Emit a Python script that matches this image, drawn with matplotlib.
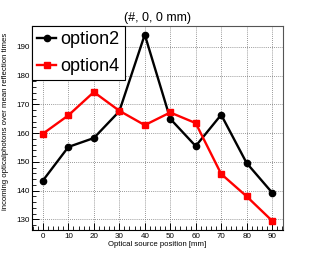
import matplotlib
matplotlib.use("Agg")
from matplotlib import pyplot as plt
from matplotlib.ticker import MultipleLocator

positions = [0, 10, 20, 30, 40, 50, 60, 70, 80, 90]
option2 = [143.5, 155.2, 158.3, 167.6, 194.3, 165.0, 155.5, 166.4, 149.6, 139.3]
option4 = [159.8, 166.2, 174.3, 167.8, 162.8, 167.2, 163.5, 145.8, 138.0, 129.5]

plt.rcParams['font.family'] = ['Liberation Sans', 'DejaVu Sans']

fig = plt.figure(figsize=(3.15, 2.56), dpi=100)
ax = fig.add_axes([0.1006, 0.1016, 0.7988, 0.798])

ax.plot(positions, option2, color='black', lw=1.7, marker='o', ms=4.5, label='option2')
ax.plot(positions, option4, color='red', lw=1.7, marker='s', ms=4.5, label='option4')

ax.set_xlim(-4.4, 94.4)
ax.set_ylim(126.3, 197.4)
ax.xaxis.set_major_locator(MultipleLocator(10))
ax.xaxis.set_minor_locator(MultipleLocator(2))
ax.yaxis.set_major_locator(MultipleLocator(10))
ax.yaxis.set_minor_locator(MultipleLocator(2))
ax.tick_params(which='both', direction='in', labelsize=5.8, top=False, right=False)
ax.tick_params(which='major', length=5, width=0.7)
ax.tick_params(which='minor', length=2.8, width=0.6)
ax.tick_params(axis='x', pad=2.5)
ax.tick_params(axis='y', pad=1.6)
ax.grid(True, which='major', ls=(0, (1, 1.5)), color='#777777', lw=0.6)
for s in ['top', 'right']:
    ax.spines[s].set_color('#555555')
for s in ax.spines.values():
    s.set_linewidth(0.8)

fig.text(0.4995, 1 - 20.5 / 256, '(#, 0, 0 mm)', ha='center', va='baseline', fontsize=9)
fig.text(157.5 / 315, 1 - 244 / 256, 'Optical source position [mm]', ha='center', va='center', fontsize=5.6)
fig.text(5.5 / 315, 1 - 33 / 256, 'incoming opticalphotons over mean reflection times',
         ha='center', va='top', rotation=90, fontsize=5.6)

leg = ax.legend(loc='upper left', bbox_to_anchor=(0, 1), borderaxespad=0, fontsize=13,
                frameon=True, fancybox=False, edgecolor='black', framealpha=1,
                handlelength=1.05, handletextpad=0.25, borderpad=0.3, labelspacing=0.55)
leg.get_frame().set_linewidth(0.8)

fig.savefig('out.png', dpi=100)
